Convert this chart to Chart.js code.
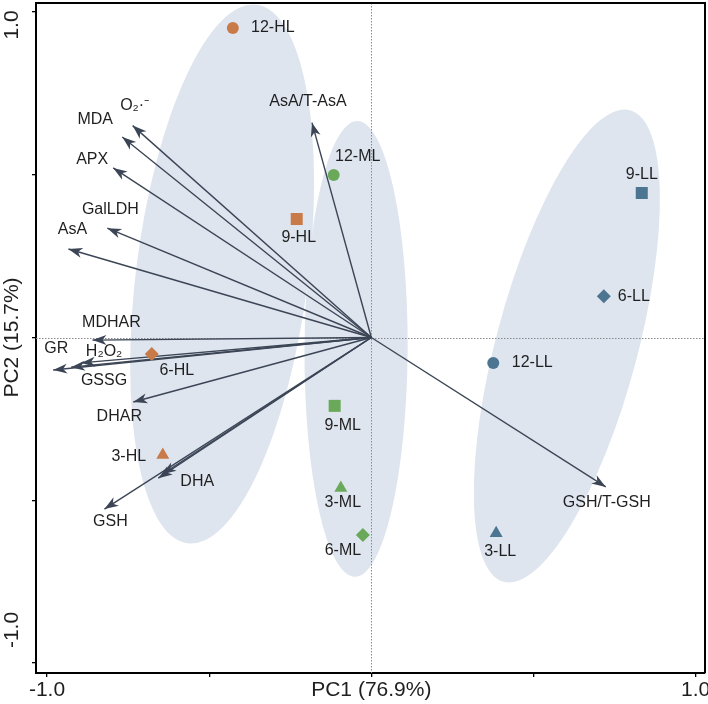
<!DOCTYPE html>
<html>
<head>
<meta charset="utf-8">
<script src="https://cdn.jsdelivr.net/npm/chart.js@4/dist/chart.umd.min.js"></script>
<style>
html, body { margin: 0; padding: 0; background: #fff; }
#wrap { width: 708px; height: 704px; }
</style>
</head>
<body>
<div id="wrap"><canvas id="pca" width="708" height="704"></canvas></div>
<script>
"use strict";

// sample scores (PC1, PC2), order of days: 3, 6, 9, 12
const days = [3, 6, 9, 12];
const hlX = [-0.643, -0.677, -0.230, -0.427];
const hlY = [-0.361, -0.051, 0.364, 0.951];
const mlX = [-0.094, -0.026, -0.113, -0.116];
const mlY = [-0.462, -0.607, -0.210, 0.499];
const llX = [0.385, 0.717, 0.834, 0.376];
const llY = [-0.601, 0.127, 0.444, -0.078];

// variable loadings (arrows from the origin)
const loadNames = ["O₂·⁻", "MDA", "APX", "GalLDH", "AsA", "MDHAR", "GR", "H₂O₂", "GSSG", "DHAR", "DHA", "", "GSH", "AsA/T-AsA", "GSH/T-GSH"];
const loadX = [-0.736, -0.768, -0.796, -0.814, -0.934, -0.860, -0.981, -0.895, -0.926, -0.734, -0.657, -0.645, -0.823, -0.183, 0.723];
const loadY = [0.651, 0.616, 0.521, 0.336, 0.272, -0.008, -0.100, -0.078, -0.091, -0.198, -0.432, -0.420, -0.527, 0.660, -0.459];

// group ellipses: centre, half axes, tilt in degrees (clockwise from vertical)
const ellCx = [-0.460, -0.047, 0.603];
const ellCy = [0.195, -0.035, -0.026];
const ellA = [0.834, 0.700, 0.750];
const ellB = [0.265, 0.159, 0.218];
const ellTilt = [7.3, 0.3, 15];

const xTicks = [-1, -0.5, 0, 0.5, 1];
const yTicks = [-1, -0.5, 0, 0.5, 1];
const xTickLabels = ["-1.0", "", "PC1 (76.9%)", "", "1.0"];
const yTickLabels = ["-1.0", "", "PC2 (15.7%)", "", "1.0"];

// ---- styling / placement ----
const FONT = "'Liberation Sans', Arial, sans-serif";
const TEXT = "#1f1f1f";
const ARROW = "#3b4555";
const ELL_FILL = "#dee5ef";
const groupColors = ["#c87b48", "#6aa95a", "#4c7591"];
const dayStyles = { 3: "triangle", 6: "rectRot", 9: "rect", 12: "circle" };
const dayRadius = { 3: 7.5, 6: 7, 9: 8.5, 12: 6 };

// label offsets in px from the mark (text centred)
const hlLabelOff = [[-34, 2], [25, 16], [2, 19], [40, 0]];
const mlLabelOff = [[2, 15], [-20, 16], [8, 20], [24, -18]];
const llLabelOff = [[4, 18], [30, 0], [0, -18], [39, 0]];
const loadLabelOff = [[2, -20], [-27, -17], [-21, -8], [3, -19], [4, -19], [19, -18], [3, -21],
    [23, -11], [33, 13], [-14, 15], [39, 3], [0, 0], [6, 13], [-4, -21], [1, 16]];
const yLabelShift = [-33, 0, 0, 0, 13];

const groupNames = ["HL", "ML", "LL"];
const groupX = [hlX, mlX, llX];
const groupY = [hlY, mlY, llY];
const groupLabelOff = [hlLabelOff, mlLabelOff, llLabelOff];

var datasets = [];

groupNames.forEach((g, gi) => {
    datasets.push({
        type: "scatter",
        label: g,
        order: 0,
        data: days.map((d, i) => ({ x: groupX[gi][i], y: groupY[gi][i] })),
        pointStyle: days.map(d => dayStyles[d]),
        pointRadius: days.map(d => dayRadius[d]),
        backgroundColor: groupColors[gi],
        borderColor: groupColors[gi],
        borderWidth: 0,
        showLine: false,
        clip: false
    });
});

loadNames.forEach((n, i) => {
    datasets.push({
        type: "line",
        label: n || "load" + i,
        order: 1,
        isLoading: true,
        data: [{ x: 0, y: 0 }, { x: loadX[i], y: loadY[i] }],
        borderColor: ARROW,
        borderWidth: 1.4,
        pointRadius: 0,
        fill: false,
        clip: false
    });
});

function drawHead(ctx, x0, y0, x1, y1) {
    const ang = Math.atan2(y1 - y0, x1 - x0);
    ctx.save();
    ctx.translate(x1, y1);
    ctx.rotate(ang);
    ctx.beginPath();
    ctx.moveTo(0, 0);
    ctx.lineTo(-14, -5);
    ctx.lineTo(-10, 0);
    ctx.lineTo(-14, 5);
    ctx.closePath();
    ctx.fill();
    ctx.restore();
}

const backdrop = {
    id: "backdrop",
    beforeDatasetsDraw(chart) {
        const ctx = chart.ctx, xs = chart.scales.x, ys = chart.scales.y, a = chart.chartArea;
        const pxX = xs.getPixelForValue(1) - xs.getPixelForValue(0);
        const pxY = ys.getPixelForValue(0) - ys.getPixelForValue(1);
        ctx.save();
        ctx.beginPath();
        ctx.rect(a.left, a.top, a.right - a.left, a.bottom - a.top);
        ctx.clip();
        ctx.fillStyle = ELL_FILL;
        for (let i = 0; i < ellCx.length; i++) {
            ctx.beginPath();
            ctx.ellipse(xs.getPixelForValue(ellCx[i]), ys.getPixelForValue(ellCy[i]),
                ellB[i] * pxX, ellA[i] * pxY, ellTilt[i] * Math.PI / 180, 0, Math.PI * 2);
            ctx.fill();
        }
        // dotted zero lines
        ctx.strokeStyle = "#8a8a8a";
        ctx.lineWidth = 1;
        ctx.setLineDash([1.5, 1.5]);
        const x0 = Math.round(xs.getPixelForValue(0)) + 0.5;
        const y0 = Math.round(ys.getPixelForValue(0)) + 0.5;
        ctx.beginPath();
        ctx.moveTo(x0, a.top); ctx.lineTo(x0, a.bottom);
        ctx.moveTo(a.left, y0); ctx.lineTo(a.right, y0);
        ctx.stroke();
        ctx.restore();
    },
    afterDatasetsDraw(chart) {
        const ctx = chart.ctx;
        ctx.save();
        ctx.fillStyle = ARROW;
        chart.data.datasets.forEach((ds, di) => {
            if (!ds.isLoading) return;
            const m = chart.getDatasetMeta(di).data;
            drawHead(ctx, m[0].x, m[0].y, m[1].x, m[1].y);
        });
        ctx.fillStyle = TEXT;
        ctx.font = "16px " + FONT;
        ctx.textAlign = "center";
        ctx.textBaseline = "middle";
        let li = 0;
        chart.data.datasets.forEach((ds, di) => {
            const m = chart.getDatasetMeta(di).data;
            if (ds.isLoading) {
                const o = loadLabelOff[li];
                if (loadNames[li]) ctx.fillText(loadNames[li], m[1].x + o[0], m[1].y + o[1]);
                li++;
            } else {
                const gi = groupNames.indexOf(ds.label);
                days.forEach((d, i) => {
                    const o = groupLabelOff[gi][i];
                    ctx.fillText(d + "-" + ds.label, m[i].x + o[0], m[i].y + o[1]);
                });
            }
        });
        ctx.restore();
    },
    afterDraw(chart) {
        const ctx = chart.ctx, a = chart.chartArea, ys = chart.scales.y;
        ctx.save();
        // top and right frame
        ctx.strokeStyle = "#000";
        ctx.lineWidth = 2;
        ctx.beginPath();
        ctx.moveTo(a.left, a.top);
        ctx.lineTo(a.right, a.top);
        ctx.lineTo(a.right, a.bottom);
        ctx.stroke();
        // rotated y labels
        ctx.fillStyle = TEXT;
        ctx.font = "21px " + FONT;
        ctx.textAlign = "center";
        ctx.textBaseline = "alphabetic";
        yTicks.forEach((v, i) => {
            if (!yTickLabels[i]) return;
            ctx.save();
            ctx.translate(18, ys.getPixelForValue(v) + yLabelShift[i]);
            ctx.rotate(-Math.PI / 2);
            ctx.fillText(yTickLabels[i], 0, 0);
            ctx.restore();
        });
        ctx.restore();
    }
};

function noPad(s) {
    s.paddingLeft = 0;
    s.paddingRight = 0;
    s.paddingTop = 0;
    s.paddingBottom = 0;
}

var chart = new Chart(document.getElementById("pca").getContext("2d"), {
    type: "scatter",
    data: { datasets: datasets },
    options: {
        responsive: false,
        devicePixelRatio: 1,
        animation: false,
        events: [],
        layout: { autoPadding: false, padding: { top: 3, right: 3, left: 0, bottom: 0 } },
        plugins: { legend: { display: false }, tooltip: { enabled: false } },
        scales: {
            x: {
                type: "linear",
                min: -1.034,
                max: 1.029,
                afterBuildTicks: s => { s.ticks = xTicks.map(v => ({ value: v })); },
                afterFit: s => { s.height = 31; noPad(s); },
                grid: { drawOnChartArea: false, drawTicks: true, tickLength: 4, color: "#000", lineWidth: 1.3 },
                border: { display: true, color: "#000", width: 2 },
                ticks: {
                    autoSkip: false,
                    maxRotation: 0,
                    padding: 1,
                    color: TEXT,
                    font: { family: FONT, size: 21 },
                    callback: (v, i) => xTickLabels[i]
                }
            },
            y: {
                type: "linear",
                min: -1.0307,
                max: 1.0277,
                afterBuildTicks: s => { s.ticks = yTicks.map(v => ({ value: v })); },
                afterFit: s => { s.width = 36; noPad(s); },
                grid: { drawOnChartArea: false, drawTicks: true, tickLength: 4, color: "#000", lineWidth: 1.3 },
                border: { display: true, color: "#000", width: 2 },
                ticks: { display: false }
            }
        }
    },
    plugins: [backdrop]
});

//# sourceURL=js/pca.js
</script>
</body>
</html>
